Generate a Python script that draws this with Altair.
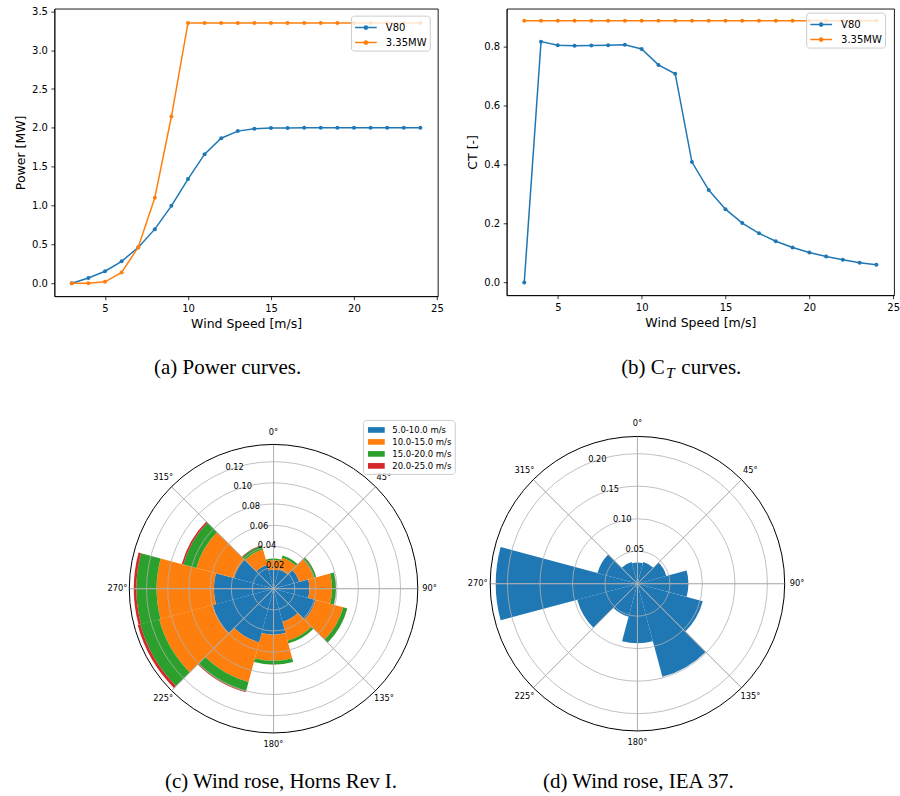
import altair as alt
import numpy as np
import pandas as pd

# ---------------- data ----------------
wind_speed = [3, 4, 5, 6, 7, 8, 9, 10, 11, 12, 13, 14, 15, 16, 17, 18, 19, 20, 21, 22, 23, 24]
v80_power = [0.0, 0.0666, 0.154, 0.282, 0.460, 0.696, 0.996, 1.341, 1.661, 1.866, 1.958, 1.988,
             1.997, 1.999, 2.0, 2.0, 2.0, 2.0, 2.0, 2.0, 2.0, 2.0]
iea_power = [0.0, 0.0, 0.0172, 0.1374, 0.4636, 1.099, 2.146, 3.35, 3.35, 3.35, 3.35, 3.35,
             3.35, 3.35, 3.35, 3.35, 3.35, 3.35, 3.35, 3.35, 3.35, 3.35]
v80_ct = [0.0, 0.818, 0.806, 0.804, 0.805, 0.806, 0.807, 0.793, 0.739, 0.709, 0.409, 0.314,
          0.249, 0.202, 0.167, 0.140, 0.119, 0.102, 0.088, 0.077, 0.067, 0.060]
iea_ct = [0.889, 0.889, 0.889, 0.889, 0.889, 0.889, 0.889, 0.889, 0.889, 0.889, 0.889, 0.889,
          0.889, 0.889, 0.889, 0.889, 0.889, 0.889, 0.889, 0.889, 0.889, 0.889]
turbines = ["V80", "3.35MW"]
line_colors = ["#1f77b4", "#ff7f0e"]

sector_dirs = [0, 30, 60, 90, 120, 150, 180, 210, 240, 270, 300, 330]
hr_bins = ["5.0-10.0 m/s", "10.0-15.0 m/s", "15.0-20.0 m/s", "20.0-25.0 m/s"]
hr_p_5_10 = [0.01794, 0.01880, 0.02503, 0.03392, 0.04113, 0.03239,
             0.04344, 0.05245, 0.05951, 0.05640, 0.03865, 0.02310]
hr_p_10_15 = [0.00912, 0.01145, 0.01421, 0.02140, 0.02706, 0.01848,
              0.02473, 0.03890, 0.05239, 0.05405, 0.03689, 0.01522]
hr_p_15_20 = [0.00135, 0.00217, 0.00248, 0.00360, 0.00397, 0.00257,
              0.00348, 0.00924, 0.01838, 0.01913, 0.01269, 0.00379]
hr_p_20_25 = [0.00006, 0.00012, 0.00013, 0.00015, 0.00011, 0.00008,
              0.00011, 0.00067, 0.00260, 0.00244, 0.00152, 0.00037]
bin_colors = ["#1f77b4", "#ff7f0e", "#2ca02c", "#d62728"]

iea_freq = [0.0324, 0.0346, 0.0460, 0.0784, 0.1041, 0.1484,
            0.0916, 0.0526, 0.0959, 0.2180, 0.0636, 0.0345]

rings_hr = [0.02, 0.04, 0.06, 0.08, 0.10, 0.12]
rings_iea = [0.05, 0.10, 0.15, 0.20]
angle_ticks = [0, 45, 90, 135, 180, 225, 270, 315]
angle_labels = ["0°", "45°", "90°", "135°", "180°", "225°", "270°", "315°"]

captions = ["(a) Power curves.", "(b) C", "T", "curves.",
            "(c) Wind rose, Horns Rev I.", "(d) Wind rose, IEA 37."]

# ---------------- layout ----------------
A_W, A_H = 384, 288
B_W, B_H = 388, 287
C_W, C_H = 439, 300
D_W, D_H = 290, 290
R_C, RMAX_C = 144.5, 0.1363
R_D, RMAX_D = 147.5, 0.2266
FONT = "DejaVu Sans"
SERIF = "Liberation Serif"
TWO_PI = 2 * np.pi


def line_panel(v80, iea, ydom, yticks, ytitle, legx, legy):
    n = len(wind_speed)
    df = pd.DataFrame({
        "ws": wind_speed + wind_speed,
        "val": v80 + iea,
        "turbine": [turbines[0]] * n + [turbines[1]] * n,
    })
    x = alt.X("ws:Q", scale=alt.Scale(domain=[1.95, 25.05], nice=False, zero=False),
              axis=alt.Axis(values=[5, 10, 15, 20, 25], title="Wind Speed [m/s]",
                            format="d", labelFlush=False))
    y = alt.Y("val:Q", scale=alt.Scale(domain=ydom, nice=False, zero=False),
              axis=alt.Axis(values=yticks, title=ytitle, format=".1f", labelFlush=False))
    color = alt.Color(
        "turbine:N",
        scale=alt.Scale(domain=turbines, range=line_colors),
        legend=alt.Legend(
            title=None, orient="none", legendX=legx, legendY=legy,
            symbolType="M-1.37,0H1.37M0.2,0A0.2,0.2,0,1,1,-0.2,0A0.2,0.2,0,1,1,0.2,0",
            symbolSize=250, symbolStrokeWidth=1.5,
            labelFont=FONT, labelFontSize=10, labelColor="black",
            labelOffset=11, padding=3, symbolOffset=3, rowPadding=1,
            fillColor="rgba(255,255,255,0.8)", strokeColor="#cccccc", cornerRadius=3,
        ),
    )
    return alt.Chart(df).mark_line(
        strokeWidth=1.5, point=alt.OverlayMarkDef(filled=True, size=16, opacity=1)
    ).encode(x=x, y=y, color=color)


# ---- panel (a)
a_lines = line_panel(v80_power, iea_power, [-0.1671, 3.5347],
                     [0, 0.5, 1.0, 1.5, 2.0, 2.5, 3.0, 3.5], "Power [MW]", 297, 7)
a_cap = alt.Chart(pd.DataFrame({"t": [captions[0]]})).mark_text(
    font=SERIF, fontSize=21, color="black", align="center", baseline="middle"
).encode(x=alt.value(173.5), y=alt.value(360), text="t:N")
A = alt.layer(a_lines, a_cap).properties(
    width=A_W, height=A_H, view=alt.ViewBackground(stroke="black", strokeWidth=0.9))

# ---- panel (b)
b_lines = line_panel(v80_ct, iea_ct, [-0.043, 0.930],
                     [0, 0.2, 0.4, 0.6, 0.8], "CT [-]", 300, 4)
b_cap1 = alt.Chart(pd.DataFrame({"t": [captions[1]]})).mark_text(
    font=SERIF, fontSize=21, color="black", align="right", baseline="middle"
).encode(x=alt.value(158.4), y=alt.value(360), text="t:N")
b_cap2 = alt.Chart(pd.DataFrame({"t": [captions[2]]})).mark_text(
    font=SERIF, fontSize=15.5, fontStyle="italic", color="black", align="left", baseline="middle"
).encode(x=alt.value(159.5), y=alt.value(365), text="t:N")
b_cap3 = alt.Chart(pd.DataFrame({"t": [captions[3]]})).mark_text(
    font=SERIF, fontSize=21, color="black", align="left", baseline="middle"
).encode(x=alt.value(175), y=alt.value(360), text="t:N")
B = alt.layer(b_lines, b_cap1, b_cap2, b_cap3).properties(
    width=B_W, height=B_H, view=alt.ViewBackground(stroke="black", strokeWidth=0.9))


def polar_panel(bars_df, color_enc, rings, rmax, R, W, H, label_r, cap, capx, capy):
    tscale = alt.Scale(domain=[0, 360], range=[0, TWO_PI])
    rscale = alt.Scale(type="linear", domain=[0, rmax], range=[0, R], zero=True, nice=False)
    bars = alt.Chart(bars_df).mark_arc().encode(
        theta=alt.Theta("t0:Q", scale=tscale, stack=False), theta2="t1:Q",
        radius=alt.Radius("hi:Q", scale=rscale, stack=False), radius2="lo:Q",
        color=color_enc,
    )
    ring_layer = alt.Chart(pd.DataFrame({"r": rings})).mark_arc(
        fillOpacity=0, stroke="#b0b0b0", strokeWidth=0.8
    ).encode(theta=alt.value(0), theta2=alt.value(TWO_PI),
             radius=alt.Radius("r:Q", scale=rscale, stack=False))
    spokes = alt.Chart(pd.DataFrame({"a": angle_ticks})).mark_arc(
        fillOpacity=0, stroke="#b0b0b0", strokeWidth=0.8
    ).encode(theta=alt.Theta("a:Q", scale=tscale, stack=False), theta2="a:Q",
             radius=alt.value(R))
    outer = alt.Chart(pd.DataFrame({"r": [rmax]})).mark_arc(
        fillOpacity=0, stroke="black", strokeWidth=1
    ).encode(theta=alt.value(0), theta2=alt.value(TWO_PI),
             radius=alt.Radius("r:Q", scale=rscale, stack=False))
    ang_lab = alt.Chart(pd.DataFrame({"a": angle_ticks, "lab": angle_labels})).mark_text(
        font=FONT, fontSize=8.3, color="black", align="center", baseline="middle"
    ).encode(theta=alt.Theta("a:Q", scale=tscale, stack=False), radius=alt.value(label_r),
             text="lab:N")
    r_lab = alt.Chart(pd.DataFrame({"r": rings, "a": [337.5] * len(rings)})).mark_text(
        font=FONT, fontSize=8.3, color="black", align="left", baseline="middle", dx=0.5, dy=-3.5
    ).encode(theta=alt.Theta("a:Q", scale=tscale, stack=False),
             radius=alt.Radius("r:Q", scale=rscale, stack=False),
             text=alt.Text("r:Q", format=".2f"))
    capl = alt.Chart(pd.DataFrame({"t": [cap]})).mark_text(
        font=SERIF, fontSize=21, color="black", align="center", baseline="middle"
    ).encode(x=alt.value(capx), y=alt.value(capy), text="t:N")
    return alt.layer(bars, ring_layer, spokes, outer, ang_lab, r_lab, capl).properties(
        width=W, height=H)


# ---- panel (c)
hr_rows = []
for i, d in enumerate(sector_dirs):
    lo = 0.0
    for b, series in zip(hr_bins, [hr_p_5_10, hr_p_10_15, hr_p_15_20, hr_p_20_25]):
        hi = lo + series[i]
        hr_rows.append({"dir": d, "t0": d - 15, "t1": d + 15, "bin": b, "lo": lo, "hi": hi})
        lo = hi
hr_df = pd.DataFrame(hr_rows)
hr_color = alt.Color(
    "bin:N", scale=alt.Scale(domain=hr_bins, range=bin_colors),
    legend=alt.Legend(
        title=None, orient="none", legendX=309, legendY=-19,
        symbolType="M-1.24,-0.42H1.24V0.42H-1.24Z", symbolSize=182, symbolStrokeWidth=0,
        labelFont=FONT, labelFontSize=8.5, labelColor="black", labelOffset=9,
        padding=3, symbolOffset=3.5, rowPadding=0, labelLimit=200,
        fillColor="rgba(255,255,255,0.8)", strokeColor="#cccccc", cornerRadius=3,
    ),
)
C = polar_panel(hr_df, hr_color, rings_hr, RMAX_C, R_C, C_W, C_H, 156.3,
                captions[4], 227, 344)

# ---- panel (d)
iea_df = pd.DataFrame({
    "dir": sector_dirs,
    "t0": [d - 15 for d in sector_dirs],
    "t1": [d + 15 for d in sector_dirs],
    "lo": [0.0] * len(sector_dirs),
    "hi": iea_freq,
})
D = polar_panel(iea_df, alt.value("#1f77b4"), rings_iea, RMAX_D, R_D, D_W, D_H, 160,
                captions[5], 146, 344)


def indep(c):
    return c.resolve_scale(color="independent", theta="independent", radius="independent",
                           x="independent", y="independent").resolve_legend(color="independent")


top = indep(alt.hconcat(A, B, spacing=69, bounds="flush"))
bottom = indep(alt.hconcat(C, D, spacing=0, bounds="flush"))
# a nested concat counts as zero height in a flush layout, so the spacing spans row 1 too
chart = indep(alt.vconcat(top, bottom, spacing=431, bounds="flush")).properties(
    padding={"left": 13.5, "top": 5, "right": 0, "bottom": 0}
).configure(background="white").configure_view(strokeWidth=0).configure_axis(
    labelFont=FONT, labelFontSize=10, labelColor="black",
    titleFont=FONT, titleFontSize=12.5, titleFontWeight="normal", titleColor="black",
    tickColor="black", tickSize=3.5, tickWidth=0.8, domainColor="black", domainWidth=0.8,
    grid=False, labelPadding=3.5, titlePadding=4,
)

chart.save("out.html", embed_options={"renderer": "svg", "actions": False})
